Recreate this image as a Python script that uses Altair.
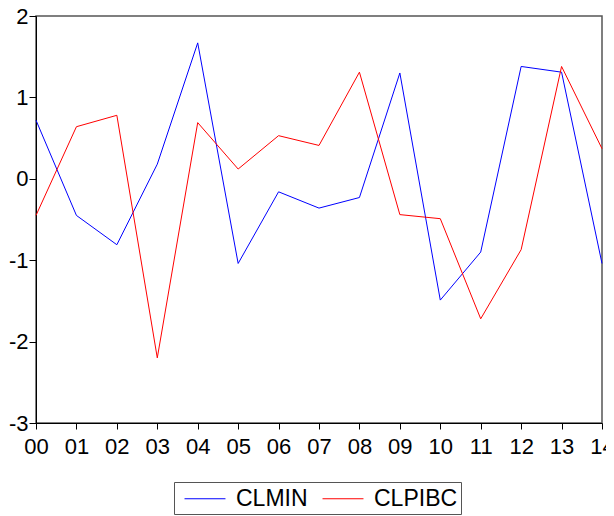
import altair as alt
import pandas as pd

years = ["00", "01", "02", "03", "04", "05", "06", "07", "08", "09", "10", "11", "12", "13", "14"]
clmin = [0.72, -0.45, -0.81, 0.18, 1.67, -1.04, -0.16, -0.36, -0.23, 1.30, -1.49, -0.90, 1.38, 1.31, -1.04]
clpibc = [-0.45, 0.64, 0.78, -2.20, 0.69, 0.12, 0.53, 0.41, 1.31, -0.44, -0.49, -1.72, -0.87, 1.38, 0.37]
series_names = ["CLMIN", "CLPIBC"]
series_colors = ["#0000ff", "#ff0000"]

rows = []
for y, a, b in zip(years, clmin, clpibc):
    rows.append({"year": y, "series": "CLMIN", "value": a})
    rows.append({"year": y, "series": "CLPIBC", "value": b})
df = pd.DataFrame(rows)

chart = alt.Chart(df).mark_line(strokeWidth=1).encode(
    x=alt.X("year:O", scale=alt.Scale(type="point", padding=0),
            axis=alt.Axis(title=None, labelAngle=0, labelFontSize=22, labelFont="Liberation Sans",
                          labelColor="#000", tickSize=6, tickColor="#000", domainColor="#000",
                          labelPadding=7, grid=False)),
    y=alt.Y("value:Q", scale=alt.Scale(domain=[-3, 2], nice=False, zero=False),
            axis=alt.Axis(title=None, values=[-3, -2, -1, 0, 1, 2], labelFontSize=22,
                          labelFont="Liberation Sans", labelColor="#000", tickSize=7,
                          tickColor="#000", domainColor="#000", labelPadding=1, grid=False,
                          labelBaseline="middle", labelExpr="'' + datum.value")),
    color=alt.Color("series:N", scale=alt.Scale(domain=series_names, range=series_colors),
                    legend=alt.Legend(title=None, orient="none", direction="horizontal",
                                      legendX=138, legendY=466, symbolType="M-0.46,0H2.69",
                                      symbolSize=676, symbolStrokeWidth=1,
                                      labelFontSize=23, labelFont="Liberation Sans",
                                      labelColor="#000", strokeColor="#555", padding=3,
                                      columnPadding=7, labelOffset=32)),
).properties(
    width=566, height=407, padding={"left": 28, "top": 8, "right": 4, "bottom": 93},
    autosize=alt.AutoSizeParams(type="none")
).configure_view(
    stroke="#555", strokeWidth=1.5
)

chart.save("out.html", embed_options={"renderer": "svg", "actions": False})
